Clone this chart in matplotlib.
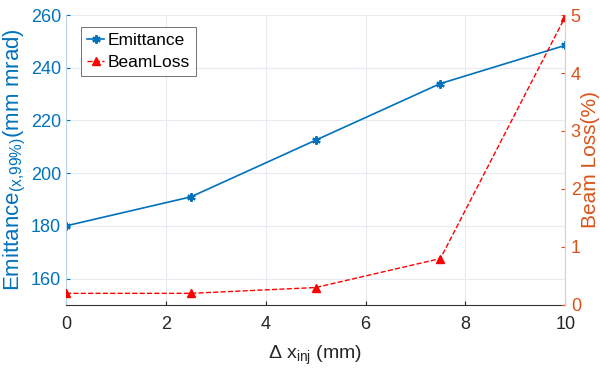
import matplotlib
matplotlib.use("Agg")
import matplotlib.pyplot as plt

plt.rcParams['font.family'] = ['Liberation Sans', 'DejaVu Sans']
plt.rcParams['mathtext.fontset'] = 'custom'
plt.rcParams['mathtext.rm'] = 'Liberation Sans'
plt.rcParams['mathtext.it'] = 'Liberation Sans'

dx = [0, 2.5, 5, 7.5, 10]
emittance = [180, 191, 212.5, 234, 248.5]
beam_loss = [0.2, 0.2, 0.3, 0.8, 4.97]

BLUE = "#0072BD"
ORANGE = "#D95319"

fig = plt.figure(figsize=(6, 3.76), dpi=100)
ax = fig.add_axes([0.11, 0.189, 0.832, 0.771])
ax2 = ax.twinx()

l1, = ax.plot(dx, emittance, color=BLUE, marker=(6, 2, 0), markersize=6,
              markeredgewidth=1.5, linewidth=1.2, label="Emittance")
l2, = ax2.plot(dx, beam_loss, color="red", linestyle="--", marker="^",
               markersize=6, linewidth=1.0, label="BeamLoss")

ax.set_xlim(0, 10)
ax.set_ylim(150, 260)
ax2.set_ylim(0, 5)
ax.set_xticks([0, 2, 4, 6, 8, 10])
ax.set_yticks([160, 180, 200, 220, 240, 260])
ax2.set_yticks([0, 1, 2, 3, 4, 5])

ax.grid(True, color="#e6ecf2", linewidth=0.8)
ax.set_axisbelow(True)

for a in (ax, ax2):
    a.spines['top'].set_visible(False)
    a.tick_params(direction="in", length=3, labelsize=13)
ax.tick_params(axis='x', pad=8)
ax2.tick_params(axis='y', pad=4)
ax.spines['left'].set_color("#b8d4ea")
ax2.spines['left'].set_visible(False)
ax2.spines['right'].set_color("#f0c8b4")
ax.spines['right'].set_visible(False)
ax.spines['bottom'].set_color("#333333")
ax2.spines['bottom'].set_visible(False)
ax.tick_params(axis='y', colors=BLUE, labelcolor=BLUE)
ax.tick_params(axis='x', colors="#262626", labelcolor="#262626")
ax2.tick_params(axis='y', colors=ORANGE, labelcolor=ORANGE)

ax.set_ylabel(r"Emittance$_{(x{,}99\%)}$(mm mrad)", color=BLUE, fontsize=16, labelpad=2)
ax2.set_ylabel("Beam Loss(%)", color=ORANGE, fontsize=15, labelpad=0)
ax.set_xlabel(r"$\Delta$ x$_{inj}$ (mm)", color="#262626", fontsize=14, labelpad=8)

leg = ax.legend(handles=[l1, l2], loc="upper left", bbox_to_anchor=(0.03, 0.96),
                fontsize=12.5, frameon=True, fancybox=False, handlelength=1.0,
                handletextpad=0.2, borderpad=0.35, labelspacing=0.4,
                borderaxespad=0)
leg.get_frame().set_edgecolor("#333333")
leg.get_frame().set_linewidth(0.6)

fig.savefig("out.png", dpi=100)
